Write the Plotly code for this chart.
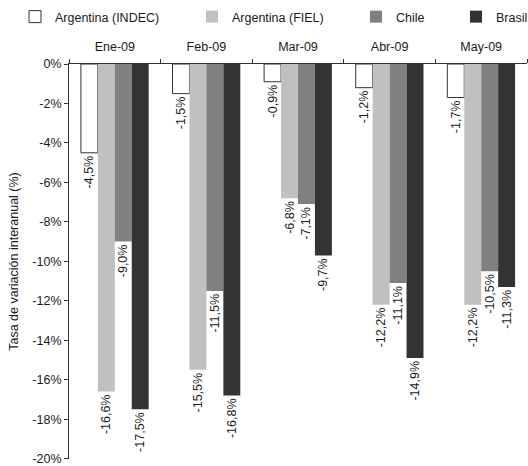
import plotly.graph_objects as go

categories = ["Ene-09", "Feb-09", "Mar-09", "Abr-09", "May-09"]
series_names = ["Argentina (INDEC)", "Argentina (FIEL)", "Chile", "Brasil"]
indec = [-4.5, -1.5, -0.9, -1.2, -1.7]
fiel = [-16.6, -15.5, -6.8, -12.2, -12.2]
chile = [-9.0, -11.5, -7.1, -11.1, -10.5]
brasil = [-17.5, -16.8, -9.7, -14.9, -11.3]
y_tick_values = [0, -2, -4, -6, -8, -10, -12, -14, -16, -18, -20]
y_tick_labels = ["0%", "-2%", "-4%", "-6%", "-8%", "-10%", "-12%", "-14%", "-16%", "-18%", "-20%"]

series_values = [indec, fiel, chile, brasil]
fills = ["#FFFFFF", "#C0C0C0", "#808080", "#333333"]
outlines = ["#333333", "#C0C0C0", "#808080", "#333333"]
outline_w = [1, 0, 0, 0]
legend_ids = ["legend", "legend2", "legend3", "legend4"]

FONT = "Liberation Sans, Arial, sans-serif"
FS = 12.5
TXT = "#1a1a1a"

fig = go.Figure()
for name, vals, fc, lc, lw, lg in zip(series_names, series_values, fills, outlines, outline_w, legend_ids):
    fig.add_trace(go.Bar(
        x=categories, y=vals, name=name,
        marker=dict(color=fc, line=dict(color=lc, width=lw)),
        texttemplate="%{y:.1f}%", textposition="outside", textangle=-90,
        constraintext="none", cliponaxis=False,
        textfont=dict(family=FONT, size=FS, color=TXT),
        legend=lg,
    ))

W, H = 528, 466
ml, mr, mt, mb = 69, 1, 64, 7
pw, ph = W - ml - mr, H - mt - mb

def px_x(p):
    return (p - ml) / pw

def px_y(p):
    return 1 + (mt - p) / ph

leg_common = dict(orientation="h", yanchor="middle", xanchor="left",
                  font=dict(family=FONT, size=FS, color=TXT),
                  bgcolor="rgba(0,0,0,0)", borderwidth=0)
text_starts = [55, 232, 396, 496]
legends = {}
for lg, ts in zip(legend_ids, text_starts):
    legends[lg] = dict(x=px_x(ts - 40), y=px_y(17), **leg_common)

fig.update_layout(
    width=W, height=H, autosize=False,
    margin=dict(l=ml, r=mr, t=mt, b=mb, autoexpand=False),
    paper_bgcolor="white", plot_bgcolor="white",
    barmode="group", bargap=0.26, bargroupgap=0,
    separators=",.",
    font=dict(family=FONT, size=FS, color=TXT),
    showlegend=True,
    **legends,
)
fig.update_xaxes(
    side="top", type="category", tickson="boundaries",
    ticks="outside", ticklen=4, tickcolor="#333333",
    showline=True, linecolor="#333333", linewidth=1,
    showgrid=False, zeroline=False, ticklabelstandoff=7,
    tickfont=dict(family=FONT, size=FS, color=TXT),
)
fig.update_yaxes(
    range=[-20.02, 0], tickmode="array", tickvals=y_tick_values, ticktext=y_tick_labels,
    ticks="outside", ticklen=4, tickcolor="#333333",
    showline=True, linecolor="#333333", linewidth=1,
    showgrid=False, zeroline=False, ticklabeloverflow="allow",
    tickfont=dict(family=FONT, size=FS, color=TXT),
    title=dict(text="Tasa de variación interanual (%)", standoff=10,
               font=dict(family=FONT, size=FS, color=TXT)),
)

fig.write_html("out.html", config={"displayModeBar": False},
               post_script="document.body.style.margin='0';document.body.style.overflow='hidden';")
